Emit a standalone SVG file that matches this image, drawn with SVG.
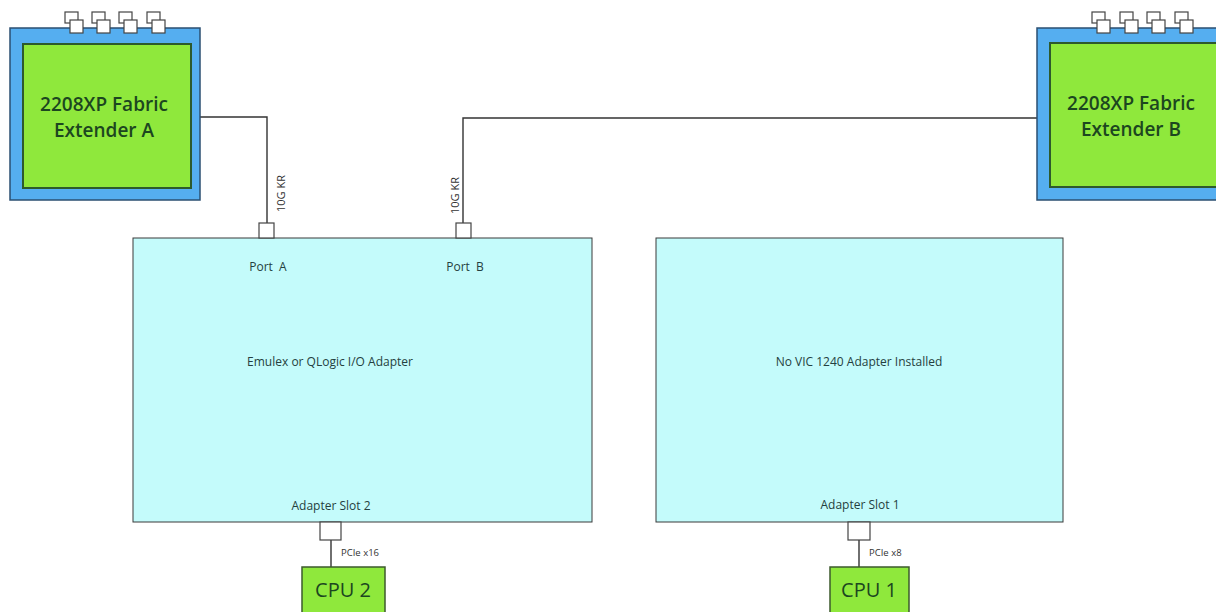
<svg xmlns="http://www.w3.org/2000/svg" width="1216" height="612" viewBox="0 0 1216 612">
<style>
.outer{fill:#55aef0;stroke:#2b4f72;stroke-width:1.5}
.inner{fill:#8fe83c;stroke:#2d5a2d;stroke-width:2}
.adapter{fill:#c4fbfb;stroke:#3a3a3a;stroke-width:1}
.cpu{fill:#8fe83c;stroke:#3d5a2d;stroke-width:1.5}
.sq{fill:#ffffff;stroke:#444;stroke-width:1.2}
.wire{fill:none;stroke:#333;stroke-width:1.4}
.fex{font-family:"Open Sans","Noto Sans",sans-serif;font-size:19px;font-weight:600;fill:#1c4620;text-anchor:middle}
.lbl{font-family:"Open Sans","Noto Sans",sans-serif;font-size:12px;fill:#243f40;text-anchor:middle}
.small{font-family:"Open Sans","Noto Sans",sans-serif;font-size:9.5px;fill:#333}
.kr{font-family:"Open Sans","Noto Sans",sans-serif;font-size:11px;fill:#333}
.cpulbl{font-family:"Open Sans","Noto Sans",sans-serif;font-size:20px;fill:#1c4620;text-anchor:middle}
</style>
<defs>
<g id="portpair">
<rect class="sq" x="0" y="0" width="13" height="11"/>
<rect class="sq" x="5" y="8" width="13" height="13"/>
</g>
</defs>
<rect width="1216" height="612" fill="#ffffff"/>

<g id="connectors">
<path class="wire" d="M192 117 H267 V223"/>
<path class="wire" d="M1050 118 H463 V223"/>
<path class="wire" d="M331 540 V567"/>
<path class="wire" d="M859 540 V567"/>
<text class="kr" transform="translate(285 212) rotate(-90)">10G KR</text>
<text class="kr" transform="translate(459 214) rotate(-90)">10G KR</text>
<text class="small" x="341" y="556">PCIe x16</text>
<text class="small" x="869" y="556">PCIe x8</text>
</g>

<g id="fex-a">
<rect class="outer" x="10" y="28" width="190" height="172"/>
<rect class="inner" x="23" y="44" width="168" height="144"/>
<use href="#portpair" x="65" y="12"/>
<use href="#portpair" x="92" y="12"/>
<use href="#portpair" x="119" y="12"/>
<use href="#portpair" x="147" y="12"/>
<text class="fex" x="104" y="111">2208XP Fabric</text>
<text class="fex" x="104" y="137">Extender A</text>
</g>

<g id="fex-b">
<rect class="outer" x="1037" y="28" width="186" height="172"/>
<rect class="inner" x="1050" y="43" width="170" height="144"/>
<use href="#portpair" x="1092" y="12"/>
<use href="#portpair" x="1120" y="12"/>
<use href="#portpair" x="1147" y="12"/>
<use href="#portpair" x="1175" y="12"/>
<text class="fex" x="1131" y="110">2208XP Fabric</text>
<text class="fex" x="1131" y="136">Extender B</text>
</g>

<g id="adapter-2">
<rect class="adapter" x="133" y="238" width="459" height="284"/>
<rect class="sq" x="259" y="223" width="15" height="15"/>
<rect class="sq" x="456" y="223" width="15" height="15"/>
<rect class="sq" x="320" y="522" width="21" height="18"/>
<text class="lbl" x="268" y="271" xml:space="preserve">Port  A</text>
<text class="lbl" x="465" y="271" xml:space="preserve">Port  B</text>
<text class="lbl" x="330" y="366">Emulex or QLogic I/O Adapter</text>
<text class="lbl" x="331" y="510">Adapter Slot 2</text>
</g>

<g id="adapter-1">
<rect class="adapter" x="656" y="238" width="407" height="284"/>
<rect class="sq" x="848" y="522" width="22" height="18"/>
<text class="lbl" x="859" y="366">No VIC 1240 Adapter Installed</text>
<text class="lbl" x="860" y="509">Adapter Slot 1</text>
</g>

<g id="cpu-2">
<rect class="cpu" x="302" y="567" width="83" height="50"/>
<text class="cpulbl" x="343" y="597">CPU 2</text>
</g>

<g id="cpu-1">
<rect class="cpu" x="830" y="567" width="79" height="50"/>
<text class="cpulbl" x="869" y="597">CPU 1</text>
</g>
</svg>
